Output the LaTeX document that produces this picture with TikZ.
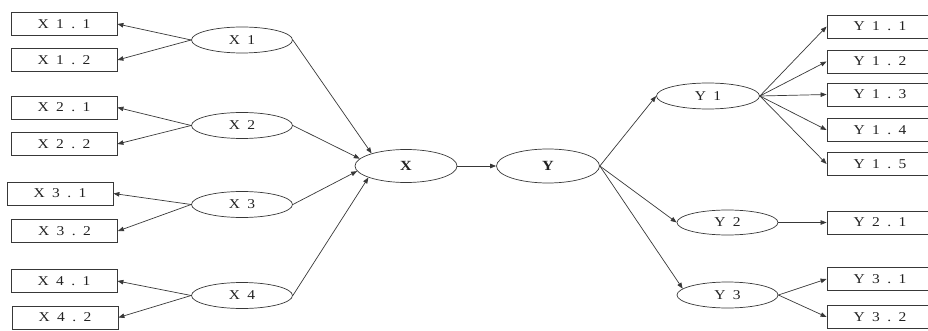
\documentclass[tikz,border=0pt]{standalone}
\usepackage{fontspec}
\usetikzlibrary{shapes.geometric,arrows.meta}
\newfontfamily\lblfont[LetterSpace=55,FakeStretch=1.15]{Liberation Serif}
\definecolor{ln}{HTML}{383838}
\definecolor{tx}{HTML}{222222}
\tikzset{
  bx/.style={draw=ln, line width=0.8pt, rectangle, inner sep=0pt, minimum width=106pt, minimum height=23pt, text=tx, font=\lblfont\fontsize{13.5}{13.5}\selectfont},
  el/.style={draw=ln, line width=0.7pt, ellipse, inner sep=0pt, minimum width=101pt, minimum height=26pt, text=tx, font=\lblfont\fontsize{13.5}{13.5}\selectfont},
  bigel/.style={el, minimum width=102pt, minimum height=33pt, font=\lblfont\bfseries\fontsize{14}{14}\selectfont},
  arr/.style={draw=ln, line width=0.7pt, -{Triangle[length=6pt,width=4.5pt]}}
}
\begin{document}
\begin{tikzpicture}[x=1pt,y=-1pt]
\useasboundingbox (0,0) rectangle (928,331);
\clip (0,0) rectangle (928,331);
% left boxes
\node[bx] (X11) at (64,24) {X1.1};
\node[bx] (X12) at (64,60) {X1.2};
\node[bx] (X21) at (64,107.5) {X2.1};
\node[bx] (X22) at (64,144) {X2.2};
\node[bx] (X31) at (60,193.5) {X3.1};
\node[bx] (X32) at (64.5,231) {X3.2};
\node[bx] (X41) at (64,281) {X4.1};
\node[bx] (X42) at (65,317.5) {X4.2};
% left ellipses
\node[el] (X1) at (242,40) {X1};
\node[el] (X2) at (242,125.5) {X2};
\node[el] (X3) at (242,204.5) {X3};
\node[el] (X4) at (242,295.5) {X4};
% centre
\node[bigel] (X) at (406,166) {X};
\node[bigel, minimum width=103pt, minimum height=34pt] (Y) at (548,166) {Y};
% right ellipses
\node[el, minimum width=103pt] (Y1) at (708,96) {Y1};
\node[el, minimum height=25pt] (Y2) at (727.5,222.5) {Y2};
\node[el] (Y3) at (727.5,295) {Y3};
% right boxes
\node[bx] (Y11) at (880,26.5) {Y1.1};
\node[bx] (Y12) at (880,61.5) {Y1.2};
\node[bx] (Y13) at (880,94.5) {Y1.3};
\node[bx] (Y14) at (880,130) {Y1.4};
\node[bx] (Y15) at (880,164) {Y1.5};
\node[bx] (Y21) at (880,222.5) {Y2.1};
\node[bx] (Y31) at (880,279) {Y3.1};
\node[bx] (Y32) at (880,317) {Y3.2};
% edges
\draw[arr] (X1.west) -- (X11.east);
\draw[arr] (X1.west) -- (X12.east);
\draw[arr] (X2.west) -- (X21.east);
\draw[arr] (X2.west) -- (X22.east);
\draw[arr] (X3.west) -- (X31.east);
\draw[arr] (X3.west) -- (X32.east);
\draw[arr] (X4.west) -- (X41.east);
\draw[arr] (X4.west) -- (X42.east);
\draw[arr] (X1.east) -- (X.160);
\draw[arr] (X2.east) -- (X.171);
\draw[arr] (X3.east) -- (X.186);
\draw[arr] (X4.east) -- (X.197);
\draw[arr] (X.east) -- (Y.west);
\draw[arr] (Y.east) -- (Y1.west);
\draw[arr] (Y.east) -- (Y2.west);
\draw[arr] (Y.east) -- (Y3.172);
\draw[arr] (Y1.east) -- (Y11.west);
\draw[arr] (Y1.east) -- (Y12.west);
\draw[arr] (Y1.east) -- (Y13.west);
\draw[arr] (Y1.east) -- (Y14.west);
\draw[arr] (Y1.east) -- (Y15.west);
\draw[arr] (Y2.east) -- (Y21.west);
\draw[arr] (Y3.east) -- (Y31.west);
\draw[arr] (Y3.east) -- (Y32.west);
\end{tikzpicture}
\end{document}
